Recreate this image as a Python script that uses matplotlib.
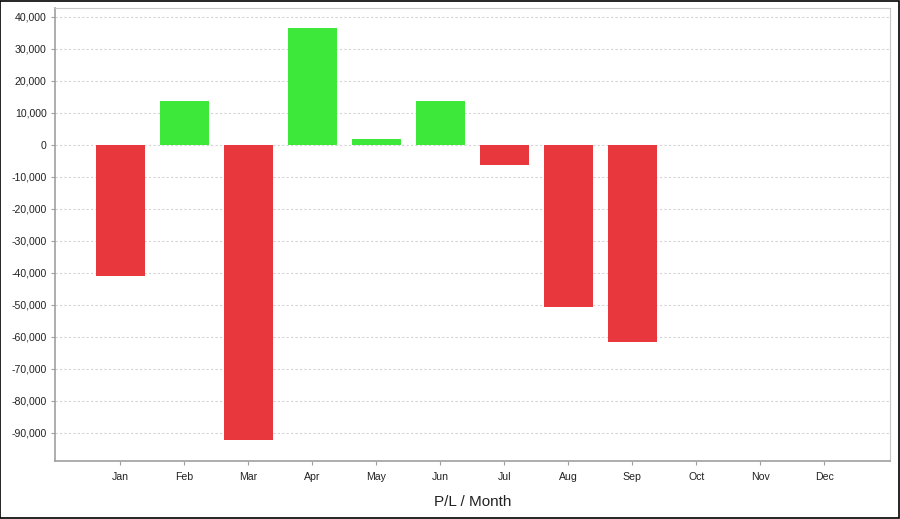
import matplotlib
matplotlib.use("Agg")
import matplotlib.pyplot as plt
from matplotlib.patches import Rectangle
from matplotlib.ticker import FuncFormatter, MultipleLocator

plt.rcParams['font.family'] = ['Liberation Sans', 'DejaVu Sans']

months = ["Jan", "Feb", "Mar", "Apr", "May", "Jun", "Jul", "Aug", "Sep", "Oct", "Nov", "Dec"]
pl = [-40900, 13750, -92200, 36500, 1900, 13750, -6300, -50600, -61500]

red = "#e8373d"
green = "#3de83a"

fig = plt.figure(figsize=(9, 5.19), dpi=100)
ax = fig.add_axes([0.0611, 0.1118, 0.9279, 0.8728])

x = list(range(len(pl)))
colors = [green if v >= 0 else red for v in pl]
ax.bar(x, pl, width=0.77, color=colors, zorder=2)

ax.set_xlim(-1.02, 12.03)
ax.set_ylim(-98800, 42800)
ax.set_xticks(range(len(months)))
ax.set_xticklabels(months)
ax.yaxis.set_major_locator(MultipleLocator(10000))
ax.yaxis.set_major_formatter(FuncFormatter(lambda v, p: f"{int(v):,}"))

ax.grid(axis="y", color="#d4d4d4", linestyle=(0, (2, 2)), linewidth=0.8, zorder=0)
ax.tick_params(axis="both", labelsize=7.6, length=3, color="#a0a0a0", labelcolor="#222222", width=0.8)
ax.tick_params(axis="y", pad=3)
ax.tick_params(axis="x", pad=5)
for side in ["left", "bottom"]:
    ax.spines[side].set_color("#a0a0a0")
    ax.spines[side].set_linewidth(1.2)
for side in ["right", "top"]:
    ax.spines[side].set_color("#c8c8c8")
    ax.spines[side].set_linewidth(0.8)

ax.set_xlabel("P/L / Month", fontsize=11, color="#222222", labelpad=9)

fig.patches.append(Rectangle((0.0005, 0.001), 0.998, 0.997, transform=fig.transFigure,
                             fill=False, edgecolor="black", linewidth=1.2))

fig.savefig("out.png", dpi=100)
